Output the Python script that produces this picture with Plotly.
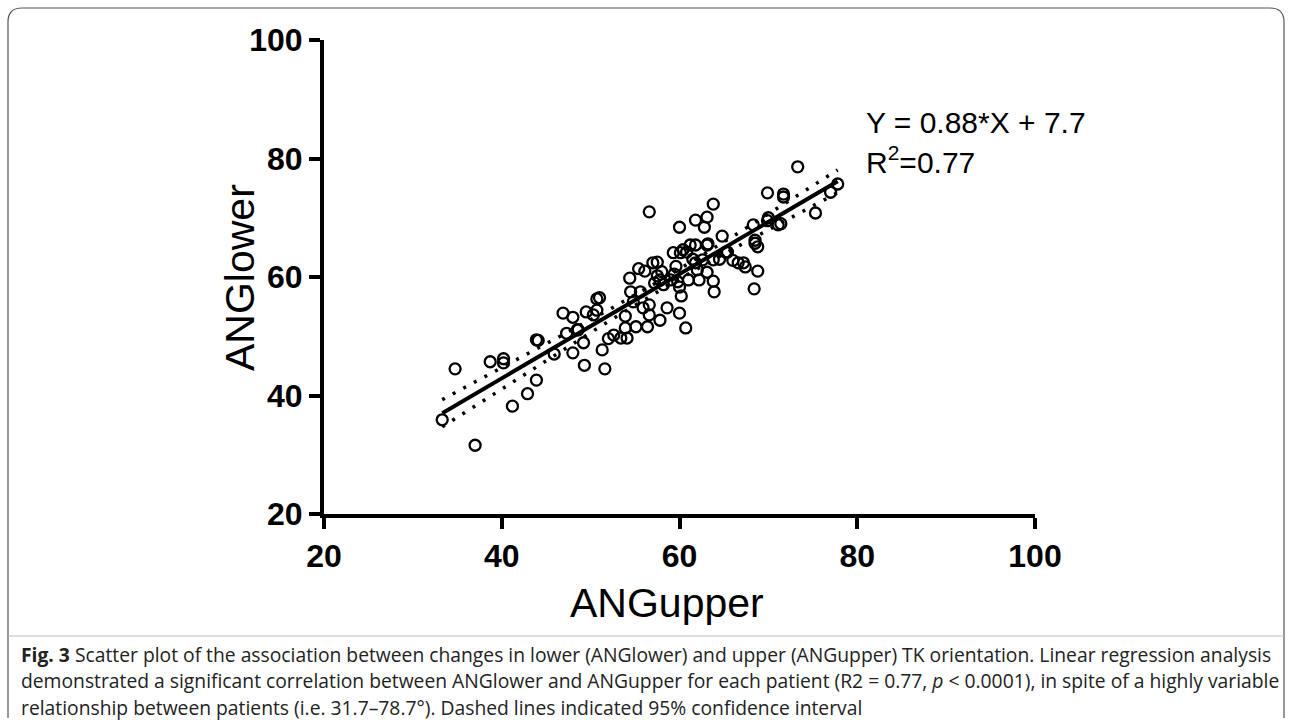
import numpy as np
import plotly.graph_objects as go

# ---- data ----
ang_upper = [33.3, 34.75, 37.0, 38.7, 40.2, 40.2, 41.2, 42.9, 43.9, 43.9, 45.9, 48.0, 49.2, 49.3, 48.5,
             46.9, 48.0, 49.5, 50.7, 51.0, 50.3, 48.6, 51.3, 51.6, 50.7, 53.9, 54.1, 53.4, 54.4, 54.5,
             55.6, 53.9, 55.1, 56.4, 55.9, 56.6, 56.6, 57.8, 58.6, 60.0, 60.7, 60.2, 60.0, 57.5, 55.4,
             56.1, 57.0, 57.5, 59.3, 60.1, 60.8, 61.2, 61.8, 63.1, 61.0, 62.2, 63.1, 63.8, 63.9, 61.8,
             62.6, 66.6, 57.8, 59.0, 59.8, 56.6, 60.0, 61.8, 63.1, 62.8, 64.8, 63.2, 60.4, 65.2, 63.8,
             69.9, 71.7, 71.1, 70.0, 68.3, 68.5, 68.5, 73.3, 71.7, 77.8, 77.0, 75.3, 71.4, 69.9, 68.8,
             67.2, 67.4, 68.8, 65.4, 63.8, 68.4, 52.0, 52.6, 58.2, 59.4, 62.0, 64.5, 44.1, 47.3, 66.0,
             58.0, 54.8, 61.5, 57.2, 59.6]
ang_lower = [35.9, 44.5, 31.6, 45.7, 46.2, 45.5, 38.2, 40.3, 42.6, 49.4, 47.0, 47.2, 48.9, 45.1, 51.1,
             53.9, 53.2, 54.1, 56.3, 56.5, 53.6, 51.1, 47.7, 44.5, 54.4, 51.4, 49.7, 49.7, 59.8, 57.5,
             57.5, 53.4, 51.6, 51.6, 54.8, 55.3, 53.6, 52.7, 54.8, 53.9, 51.4, 56.8, 58.3, 60.2, 61.4,
             61.0, 62.4, 62.5, 64.1, 64.1, 64.2, 65.4, 65.4, 65.4, 59.5, 59.5, 60.8, 59.3, 57.5, 62.4,
             62.9, 62.4, 59.5, 59.5, 59.2, 71.0, 68.4, 69.6, 70.1, 68.4, 66.9, 65.6, 64.6, 64.2, 72.3,
             74.2, 74.0, 68.8, 70.0, 68.8, 66.2, 65.7, 78.6, 73.5, 75.7, 74.3, 70.8, 69.0, 69.5, 65.1,
             62.4, 61.7, 61.0, 64.2, 62.9, 58.0, 49.6, 50.2, 58.7, 60.5, 61.2, 63.0, 49.3, 50.5, 62.8,
             60.9, 55.8, 63.0, 59.0, 61.8]

slope = 0.88
intercept = 7.7
r2_text = "0.77"

x_ticks = [20, 40, 60, 80, 100]
y_ticks = [20, 40, 60, 80, 100]

# ---- regression line and 95% CI computed from the data ----
xa = np.array(ang_upper)
ya = np.array(ang_lower)
n = len(xa)
xs = np.linspace(xa.min(), xa.max(), 60)
fit = slope * xs + intercept
resid = ya - (slope * xa + intercept)
s = np.sqrt(np.sum(resid ** 2) / (n - 2))
sxx = np.sum((xa - xa.mean()) ** 2)
half = 1.98 * s * np.sqrt(1.0 / n + (xs - xa.mean()) ** 2 / sxx)

W, H = 1292, 720
L, R, T, B = 324, 1035, 40, 514


def px(xpix):
    return (xpix - L) / (R - L)


def py(ypix):
    return (B - ypix) / (B - T)


fig = go.Figure()
dot = dict(color="black", width=3.5, dash="3px,9px")
fig.add_trace(go.Scatter(x=xs, y=fit + half, mode="lines", line=dot, hoverinfo="skip"))
fig.add_trace(go.Scatter(x=xs, y=fit - half, mode="lines", line=dot, hoverinfo="skip"))
fig.add_trace(go.Scatter(x=xs, y=fit, mode="lines", line=dict(color="black", width=4), hoverinfo="skip"))
fig.add_trace(go.Scatter(x=ang_upper, y=ang_lower, mode="markers",
                         marker=dict(symbol="circle-open", size=11, color="black",
                                     line=dict(width=2.3, color="black"))))

axis_common = dict(showline=True, linecolor="black", linewidth=4, ticks="outside",
                   ticklen=11, tickwidth=4, tickcolor="black", showgrid=False, zeroline=False,
                   tickfont=dict(family="Liberation Sans, Arial", size=32, color="black", weight="bold"))
fig.update_xaxes(range=[20, 100], tickvals=x_ticks, **axis_common)
fig.update_yaxes(range=[20, 100], tickvals=y_ticks, **axis_common)

ann = []
ann.append(dict(text="ANGupper", x=px(667), y=py(603), xref="paper", yref="paper", showarrow=False,
                xanchor="center", yanchor="middle",
                font=dict(family="Liberation Sans, Arial", size=41, color="black")))
ann.append(dict(text="ANGlower", x=px(240), y=py(278), xref="paper", yref="paper", showarrow=False,
                xanchor="center", yanchor="middle",
                textangle=-90, font=dict(family="Liberation Sans, Arial", size=41, color="black")))
ann.append(dict(text="Y = %.2f*X + %.1f" % (slope, intercept), x=px(864), y=py(123), xref="paper",
                yref="paper", xanchor="left", yanchor="middle", showarrow=False,
                font=dict(family="Liberation Sans, Arial", size=30, color="black")))
ann.append(dict(text="R<sup>2</sup>=" + r2_text, x=px(864), y=py(160), xref="paper",
                yref="paper", xanchor="left", yanchor="middle", showarrow=False,
                font=dict(family="Liberation Sans, Arial", size=30, color="black")))

cap_font = dict(family="Open Sans", size=19.3, color="#222222")
captions = [
    "<b>Fig. 3</b> Scatter plot of the association between changes in lower (ANGlower) and upper (ANGupper) TK orientation. Linear regression analysis",
    "demonstrated a significant correlation between ANGlower and ANGupper for each patient (R2 = 0.77, <i>p</i> &lt; 0.0001), in spite of a highly variable",
    "relationship between patients (i.e. 31.7–78.7°). Dashed lines indicated 95% confidence interval",
]
for i, c in enumerate(captions):
    ann.append(dict(text=c, x=px(19), y=py(654 + 26.5 * i), xref="paper", yref="paper",
                    xanchor="left", yanchor="middle", showarrow=False, font=cap_font))

shapes = [
    dict(type="path", xref="paper", yref="paper",
         path="M %f %f L %f %f Q %f %f %f %f L %f %f Q %f %f %f %f L %f %f" % (
             px(8), py(718), px(8), py(22), px(8), py(8), px(22), py(8),
             px(1270), py(8), px(1284), py(8), px(1284), py(22), px(1284), py(718)),
         line=dict(color="#555555", width=1.2)),
    dict(type="line", xref="paper", yref="paper", x0=px(8), x1=px(1284), y0=py(636), y1=py(636),
         line=dict(color="#bbbbbb", width=1)),
]

fig.update_layout(width=W, height=H, margin=dict(l=L, r=W - R, t=T, b=H - B),
                  plot_bgcolor="white", paper_bgcolor="white", showlegend=False,
                  annotations=ann, shapes=shapes)
fig.write_html("out.html", config={"displayModeBar": False},
               post_script="document.body.style.margin='0';document.body.style.overflow='hidden';")
